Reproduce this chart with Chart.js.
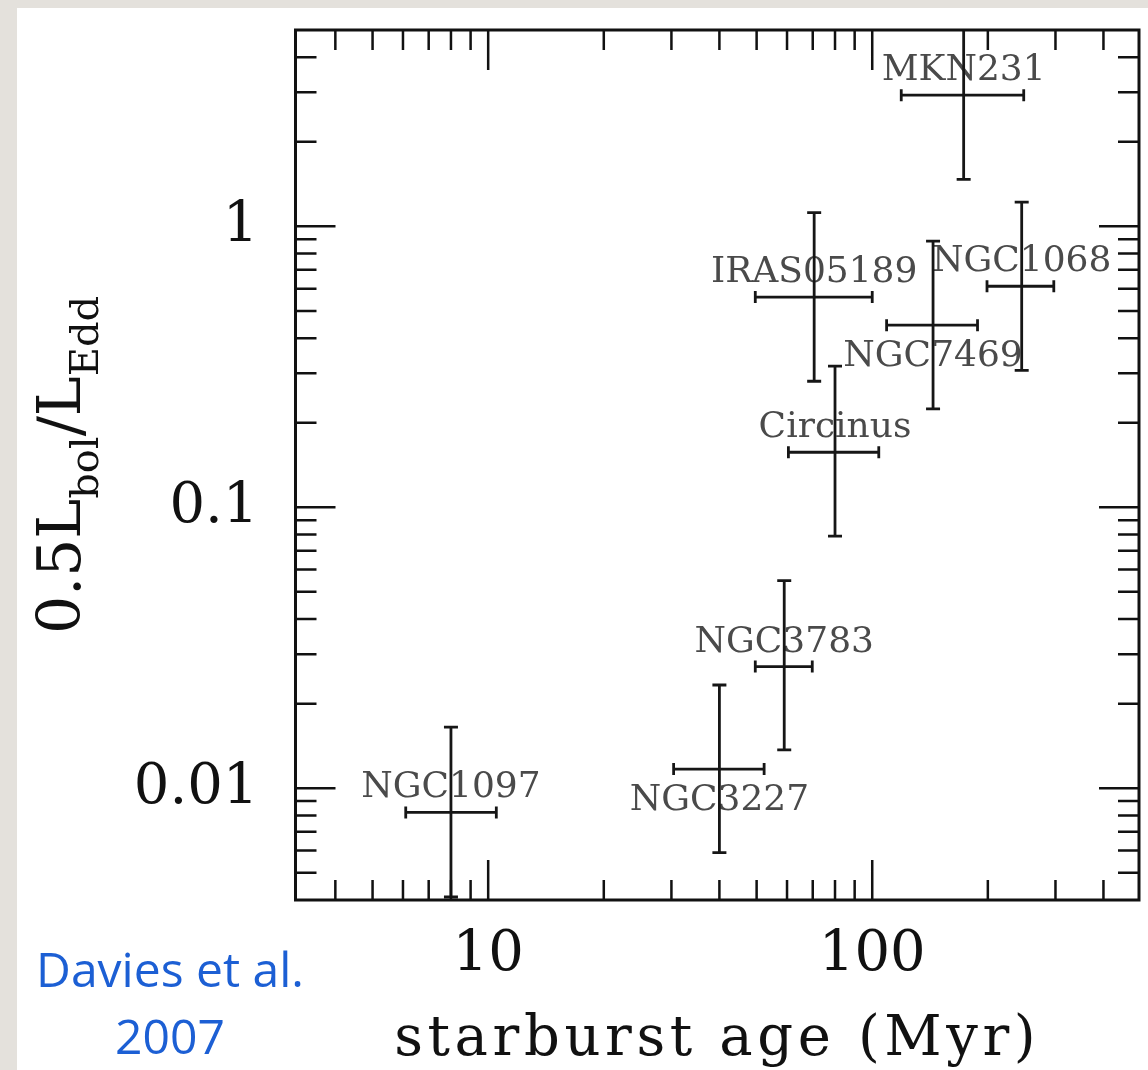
<!DOCTYPE html>
<html>
<head>
<meta charset="utf-8">
<script src="https://cdn.jsdelivr.net/npm/chart.js@4.4.1/dist/chart.umd.min.js"></script>
<style>
  html, body { margin: 0; padding: 0; background: #e4e1dc; }
  #wrap { position: relative; width: 1148px; height: 1070px; overflow: hidden; }
  #sheet { position: absolute; left: 17px; top: 8px; right: 0; bottom: 0; background: #fff; }
  #plot { position: absolute; left: 0; top: 0; }
  .cite {
    position: absolute; left: 0; top: 935px; width: 340px;
    font-family: 'Open Sans', sans-serif; font-size: 48px; line-height: 67px;
    color: #1c5fd4; text-align: center;
  }
</style>
</head>
<body>
<div id="wrap">
  <div id="sheet"></div>
  <canvas id="plot" width="1148" height="1070"></canvas>
  <div class="cite">Davies et al.<br>2007</div>
</div>
<script>
// ===== Data =====
const names    = ['NGC1097', 'NGC3227', 'NGC3783', 'Circinus', 'IRAS05189', 'NGC7469', 'NGC1068', 'MKN231'];
const age      = [8.0, 40, 59, 80, 70.6, 144, 245, 173];          // Myr
const ageLo    = [6.1, 30.4, 49.6, 60.5, 49.6, 109, 199, 119];
const ageHi    = [10.5, 52.3, 69.8, 104, 100, 188, 297, 248];
const ratio    = [0.0082, 0.0117, 0.0271, 0.157, 0.56, 0.445, 0.612, 2.93];  // 0.5 Lbol / LEdd
const ratioLo  = [0.0041, 0.0059, 0.0137, 0.079, 0.281, 0.224, 0.307, 1.47];
const ratioHi  = [0.0165, 0.0233, 0.0548, 0.318, 1.12, 0.886, 1.22, 5.85];
const labelSide = ['above', 'below', 'above', 'above', 'above', 'below', 'above', 'above'];

const xRange = [3.15, 495];
const yRange = [0.004, 5];
const xTicks = [4, 5, 6, 7, 8, 9, 10, 20, 30, 40, 50, 60, 70, 80, 90, 100, 200, 300, 400];
const yTicks = [0.004, 0.005, 0.006, 0.007, 0.008, 0.009, 0.01, 0.02, 0.03, 0.04, 0.05, 0.06, 0.07, 0.08, 0.09,
                0.1, 0.2, 0.3, 0.4, 0.5, 0.6, 0.7, 0.8, 0.9, 1, 2, 3, 4, 5];
const xTickLabels = { '10': '10', '100': '100' };
const yTickLabels = { '0.01': '0.01', '0.1': '0.1', '1': '1' };

const SERIF = "'DejaVu Serif', serif";
const isDecade = v => Math.abs(Math.log10(v) - Math.round(Math.log10(v))) < 1e-9;

// ===== Frame with inward ticks on all four sides =====
const frame = {
  id: 'frame',
  afterDraw(chart) {
    const { ctx, chartArea: a, scales: { x, y } } = chart;
    ctx.save();
    ctx.strokeStyle = '#111';
    ctx.lineWidth = 2.5;
    ctx.beginPath();
    x.ticks.forEach(t => {
      const px = x.getPixelForValue(t.value);
      if (px <= a.left + 1 || px >= a.right - 1) return;
      const len = isDecade(t.value) ? 40 : 20;
      ctx.moveTo(px, a.bottom); ctx.lineTo(px, a.bottom - len);
      ctx.moveTo(px, a.top); ctx.lineTo(px, a.top + len);
    });
    y.ticks.forEach(t => {
      const py = y.getPixelForValue(t.value);
      if (py <= a.top + 1 || py >= a.bottom - 1) return;
      const len = isDecade(t.value) ? 40 : 21;
      ctx.moveTo(a.left, py); ctx.lineTo(a.left + len, py);
      ctx.moveTo(a.right, py); ctx.lineTo(a.right - len, py);
    });
    ctx.stroke();
    ctx.lineWidth = 3;
    ctx.strokeRect(a.left, a.top, a.right - a.left, a.bottom - a.top);

    // x title
    ctx.fillStyle = '#111';
    ctx.font = '56px ' + SERIF;
    ctx.letterSpacing = '4.6px';
    ctx.textAlign = 'center';
    ctx.textBaseline = 'alphabetic';
    ctx.fillText('starburst age (Myr)', (a.left + a.right) / 2, 1055);
    ctx.letterSpacing = '0px';

    // y title with subscripts, reading upwards
    const parts = [['0.5L', false], ['bol', true], ['/L', false], ['Edd', true]];
    const mainFont = '60px ' + SERIF, subFont = '40px ' + SERIF;
    let total = 0;
    parts.forEach(([s, sub]) => { ctx.font = sub ? subFont : mainFont; total += ctx.measureText(s).width; });
    ctx.translate(80, (a.top + a.bottom) / 2 + total / 2);
    ctx.rotate(-Math.PI / 2);
    ctx.textAlign = 'left';
    let off = 0;
    parts.forEach(([s, sub]) => {
      ctx.font = sub ? subFont : mainFont;
      ctx.fillText(s, off, sub ? 18 : 0);
      off += ctx.measureText(s).width;
    });
    ctx.restore();
  }
};

// ===== Error crosses and object names =====
const errorbars = {
  id: 'errorbars',
  afterDatasetsDraw(chart) {
    const { ctx, chartArea: a, scales: { x, y } } = chart;
    ctx.save();
    ctx.beginPath();
    ctx.rect(a.left, a.top, a.right - a.left, a.bottom - a.top);
    ctx.clip();

    // names first, bars drawn over them
    ctx.font = '36px ' + SERIF;
    ctx.fillStyle = '#4a4a4a';
    ctx.textAlign = 'center';
    ctx.textBaseline = 'alphabetic';
    names.forEach((n, i) => {
      const cx = x.getPixelForValue(age[i]);
      const cy = y.getPixelForValue(ratio[i]);
      ctx.fillText(n, cx, labelSide[i] === 'above' ? cy - 15 : cy + 41);
    });

    ctx.strokeStyle = '#161616';
    ctx.lineWidth = 2.8;
    ctx.beginPath();
    names.forEach((n, i) => {
      const cx = x.getPixelForValue(age[i]);
      const cy = y.getPixelForValue(ratio[i]);
      const x0 = x.getPixelForValue(ageLo[i]), x1 = x.getPixelForValue(ageHi[i]);
      const y0 = y.getPixelForValue(ratioLo[i]), y1 = y.getPixelForValue(ratioHi[i]);
      ctx.moveTo(x0, cy); ctx.lineTo(x1, cy);
      ctx.moveTo(x0, cy - 6); ctx.lineTo(x0, cy + 6);
      ctx.moveTo(x1, cy - 6); ctx.lineTo(x1, cy + 6);
      ctx.moveTo(cx, y0); ctx.lineTo(cx, y1);
      ctx.moveTo(cx - 7, y0); ctx.lineTo(cx + 7, y0);
      ctx.moveTo(cx - 7, y1); ctx.lineTo(cx + 7, y1);
    });
    ctx.stroke();
    ctx.restore();
  }
};

const tickFont = { family: SERIF, size: 56 };

new Chart(document.getElementById('plot'), {
  type: 'scatter',
  data: {
    datasets: [{
      data: age.map((a, i) => ({ x: a, y: ratio[i] })),
      pointRadius: 0,
      showLine: false
    }]
  },
  options: {
    responsive: false,
    animation: false,
    devicePixelRatio: 1,
    layout: { padding: { top: 30, right: 9, left: 0, bottom: 0 } },
    plugins: { legend: { display: false }, tooltip: { enabled: false } },
    scales: {
      x: {
        type: 'logarithmic',
        min: xRange[0], max: xRange[1],
        grid: { display: false, drawTicks: false },
        border: { display: false },
        afterBuildTicks: s => { s.ticks = xTicks.map(v => ({ value: v })); },
        afterFit: s => { s.height = 170; s.paddingLeft = 0; s.paddingRight = 0; },
        ticks: {
          autoSkip: false, maxRotation: 0, minRotation: 0, padding: 22,
          font: tickFont, color: '#111',
          callback: v => xTickLabels[String(v)] || ''
        }
      },
      y: {
        type: 'logarithmic',
        min: yRange[0], max: yRange[1],
        grid: { display: false, drawTicks: false },
        border: { display: false },
        afterBuildTicks: s => { s.ticks = yTicks.map(v => ({ value: v })); },
        afterFit: s => { s.width = 295.5; s.paddingTop = 0; s.paddingBottom = 0; },
        ticks: {
          autoSkip: false, padding: 37,
          font: tickFont, color: '#111',
          callback: v => yTickLabels[String(v)] || ''
        }
      }
    }
  },
  plugins: [errorbars, frame]
});
</script>
</body>
</html>
